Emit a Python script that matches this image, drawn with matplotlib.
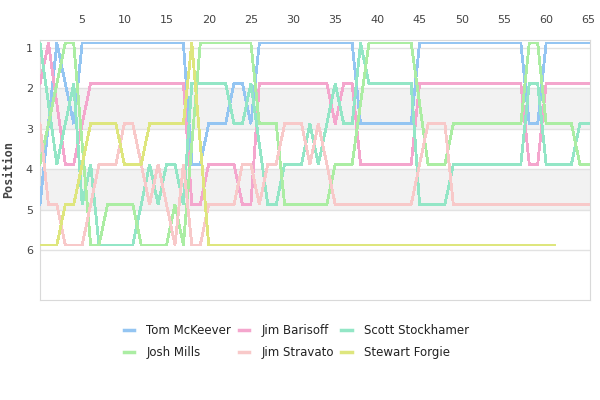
import matplotlib

matplotlib.use("Agg")
import matplotlib.pyplot as plt
from matplotlib.transforms import offset_copy

# vertices of each driver's position line (lap, position)
tom_laps = [0, 2, 4, 5, 17, 18, 19, 20, 22, 23, 24, 25, 26, 37, 38, 44, 45, 57, 58, 59, 60, 65]
tom_pos = [5, 1, 3, 1, 1, 4, 4, 3, 3, 2, 2, 3, 1, 1, 3, 3, 1, 1, 3, 3, 1, 1]

barisoff_laps = [0, 1, 3, 4, 6, 17, 18, 19, 20, 23, 24, 25, 26, 34, 35, 36, 37, 38, 44, 45,
                 57, 58, 59, 60, 65]
barisoff_pos = [2, 1, 4, 4, 2, 2, 5, 5, 4, 4, 5, 5, 2, 2, 3, 2, 2, 4, 4, 2,
                2, 4, 4, 2, 2]

scott_laps = [0, 2, 4, 5, 6, 7, 11, 13, 14, 15, 16, 17, 18, 22, 23, 24, 25, 27, 28, 29,
              31, 32, 33, 35, 36, 37, 38, 39, 44, 45, 48, 49, 57, 58, 59, 60, 63, 64, 65]
scott_pos = [1, 4, 2, 5, 4, 6, 6, 4, 5, 4, 4, 5, 2, 2, 3, 3, 2, 5, 5, 4,
             4, 3, 4, 2, 3, 3, 1, 2, 2, 5, 5, 4, 4, 2, 2, 4, 4, 3, 3]

josh_laps = [0, 3, 4, 6, 7, 8, 11, 12, 15, 16, 17, 19, 25, 26, 28, 29, 34, 35, 37, 39,
             44, 46, 48, 49, 57, 58, 59, 60, 63, 64, 65]
josh_pos = [4, 1, 1, 6, 6, 5, 5, 6, 6, 5, 6, 1, 1, 3, 3, 5, 5, 4, 4, 1,
            1, 4, 4, 3, 3, 1, 1, 3, 3, 4, 4]

stravato_laps = [0, 1, 2, 3, 5, 7, 9, 10, 11, 13, 14, 16, 17, 18, 19, 20, 23, 24, 25, 26,
                 27, 28, 29, 31, 32, 33, 35, 44, 46, 48, 49, 65]
stravato_pos = [3, 5, 5, 6, 6, 4, 4, 3, 3, 5, 4, 6, 4, 6, 6, 5, 5, 4, 4, 5,
                4, 4, 3, 3, 4, 3, 5, 5, 3, 3, 5, 5]

forgie_laps = [0, 2, 3, 4, 6, 9, 10, 12, 13, 17, 18, 20, 61]
forgie_pos = [6, 6, 5, 5, 3, 3, 4, 4, 3, 3, 1, 6, 6]

drivers = ["Tom McKeever", "Jim Barisoff", "Scott Stockhamer",
           "Josh Mills", "Jim Stravato", "Stewart Forgie"]
colors = ["#94c5f2", "#f4a6cd", "#93e6c6", "#abeda3", "#f8c9c9", "#dee67e"]
series = [(tom_laps, tom_pos), (barisoff_laps, barisoff_pos), (scott_laps, scott_pos),
          (josh_laps, josh_pos), (stravato_laps, stravato_pos), (forgie_laps, forgie_pos)]
positions = [1, 2, 3, 4, 5, 6]

fig = plt.figure(figsize=(6, 4), dpi=100)
ax = fig.add_axes([40 / 600, 0.25, 550 / 600, 0.65])

# alternating bands
ax.axhspan(2, 3, color="#f2f2f2", zorder=0, lw=0)
ax.axhspan(4, 5, color="#f2f2f2", zorder=0, lw=0)
for p in positions:
    ax.axhline(p, color="#e2e2e2", lw=1, zorder=1)

# lines sit a few pixels above the grid in the reference
shift = offset_copy(ax.transData, fig=fig, x=0, y=5, units="dots")
handles = []
for name, col, (laps, pos) in zip(drivers, colors, series):
    ln, = ax.plot(laps, pos, color=col, lw=1.3, transform=shift, zorder=3,
                  antialiased=False, label=name, solid_joinstyle="miter")
    handles.append(ln)

ax.set_xlim(0, 65.2)
ax.set_ylim(7.24, 0.8)
ax.set_yticks(positions)
ax.set_xticks(range(5, 66, 5))
ax.xaxis.tick_top()
ax.tick_params(axis="x", length=0, pad=11, labelsize=8, labelcolor="#444444")
ax.tick_params(axis="y", length=0, pad=5, labelsize=8, labelcolor="#444444")
ax.set_ylabel("Position", family="DejaVu Sans Mono", fontweight="bold",
              fontsize=8.5, color="#444444", labelpad=8)
for s in ax.spines.values():
    s.set_color("#d9d9d9")

# legend laid out row by row like the reference
order = [0, 3, 1, 4, 2, 5]
leg = fig.legend([handles[i] for i in order], [drivers[i] for i in order],
                 loc="upper center", bbox_to_anchor=(0.494, 1 - 318 / 400), ncol=3,
                 frameon=False, fontsize=8.5, handlelength=0.9, handletextpad=1.0,
                 columnspacing=0.65, labelspacing=0.75, borderpad=0)
for h in leg.legend_handles:
    h.set_linewidth(2.5)
for t in leg.get_texts():
    t.set_color("#222222")

fig.savefig("out.png", dpi=100)
